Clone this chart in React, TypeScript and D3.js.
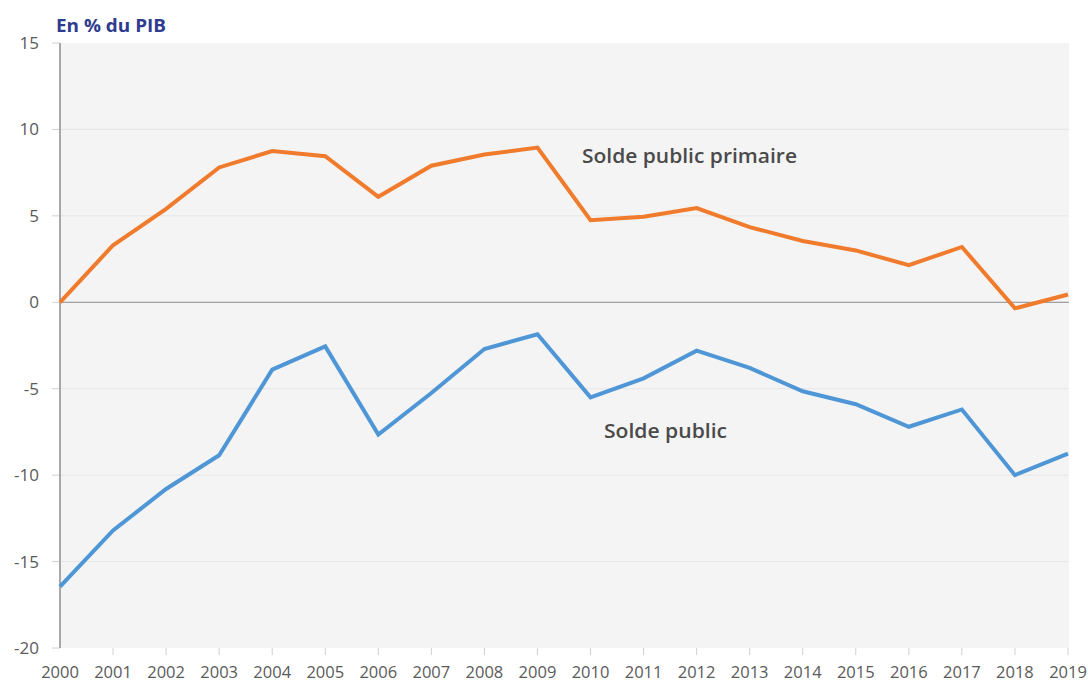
import React from "react";
import * as d3 from "d3";

const years = d3.range(2000, 2020);
const soldePrimaire = [0, 3.3, 5.4, 7.8, 8.75, 8.45, 6.1, 7.9, 8.55, 8.95, 4.75, 4.95, 5.45, 4.35, 3.55, 3.0, 2.15, 3.2, -0.35, 0.45];
const soldePublic = [-16.45, -13.2, -10.8, -8.85, -3.9, -2.55, -7.65, -5.25, -2.7, -1.85, -5.5, -4.4, -2.8, -3.8, -5.15, -5.9, -7.2, -6.2, -10.0, -8.75];
const yTicks = [15, 10, 5, 0, -5, -10, -15, -20];
const seriesLabels = ["Solde public primaire", "Solde public"];

const W = 1088;
const H = 684;

export default function App() {
  const x = d3.scaleLinear().domain([2000, 2019]).range([60, 1068]);
  const y = d3.scaleLinear().domain([-20, 15]).range([648, 43]);
  const line = d3
    .line<number>()
    .x((_, i) => x(years[i]))
    .y((d) => y(d));
  const font = "'Open Sans', 'Segoe UI', sans-serif";
  return (
    <svg
      width={W}
      height={H}
      style={{ position: "absolute", left: 0, top: 0, background: "#fff" }}
      fontFamily={font}
    >
      <rect x={60} y={y(15)} width={1069 - 60} height={y(-20) - y(15)} fill="#f4f4f4" />
      {yTicks.map((t) => (
        <g key={t}>
          {t !== 0 && t !== -20 && t !== 15 && (
            <line x1={60} x2={1069} y1={y(t)} y2={y(t)} stroke="#e6e6e6" strokeWidth={1} />
          )}
          <line x1={52} x2={60} y1={y(t)} y2={y(t)} stroke="#d0d0d0" strokeWidth={1} />
          <text x={39} y={y(t)} dy="0.35em" textAnchor="end" fontSize={17} fill="#5a5a5a">
            {t}
          </text>
        </g>
      ))}
      <line x1={60} x2={1069} y1={y(0)} y2={y(0)} stroke="#8a8a8a" strokeWidth={1} />
      {years.map((yr) => (
        <g key={yr}>
          {yr > 2000 && (
            <line x1={x(yr)} x2={x(yr)} y1={648} y2={655} stroke="#d0d0d0" strokeWidth={1} />
          )}
          <text x={x(yr)} y={678} textAnchor="middle" fontSize={16.5} fill="#5a5a5a">
            {yr}
          </text>
        </g>
      ))}
      <line x1={60} x2={60} y1={y(15)} y2={y(-20)} stroke="#a8a8a8" strokeWidth={2} />
      <path d={line(soldePrimaire) || ""} fill="none" stroke="#f07b2c" strokeWidth={4} strokeLinejoin="miter" />
      <path d={line(soldePublic) || ""} fill="none" stroke="#4f96d7" strokeWidth={4} strokeLinejoin="miter" />
      <text x={582} y={163} fontSize={20} fontWeight={600} fill="#4a4a4a" textLength={215} lengthAdjust="spacingAndGlyphs">
        {seriesLabels[0]}
      </text>
      <text x={604} y={438} fontSize={20} fontWeight={600} fill="#4a4a4a" textLength={123} lengthAdjust="spacingAndGlyphs">
        {seriesLabels[1]}
      </text>
      <text x={56} y={32} fontSize={18} fontWeight={700} fill="#2e3b8f" textLength={110} lengthAdjust="spacingAndGlyphs">
        En % du PIB
      </text>
    </svg>
  );
}
